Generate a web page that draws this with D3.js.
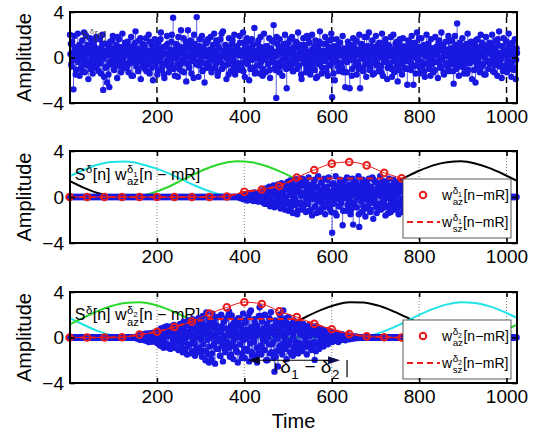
<!DOCTYPE html>
<html>
<head>
<meta charset="utf-8">
<script src="https://cdn.jsdelivr.net/npm/d3@7"></script>
<style>
  body { margin: 0; background: #fff; }
  svg { display: block; font-family: "Liberation Sans", Arial, Helvetica, sans-serif; }
</style>
</head>
<body>
<svg id="chart" width="543" height="434"></svg>
<script>
// ticks
const xTicks = [200, 400, 600, 800, 1000];
const yTicks = [-4, 0, 4];

// top panel: S^delta[n], odd samples (n = 1, 3, 5, ...)
const noise = [
  2.0,1.2,-0.8,0.4,-2.8,1.9,0.3,-1.1,0.7,2.1,-0.2,-1.6,0.9,0.1,1.5,-0.6,2.2,-1.3,0.5,-0.3,1.1,-1.9,0.8,1.7,-0.7,0.2,-1.4,1.3,0.6,-0.9,1.8,-0.1,
  0.4,-1.2,1.6,-0.5,0.9,2.0,-2.85,-1.7,0.3,1.2,-0.8,0.6,-1.5,-2.6,1.4,-0.4,0.7,1.9,-1.0,0.2,-0.6,1.1,-1.8,0.5,1.6,-0.3,0.9,-1.1,2.1,-0.7,0.1,1.3,
  -0.9,0.6,1.4,-1.3,0.2,-0.5,1.8,0.8,-1.6,1.0,-0.2,2.3,-0.8,0.4,-1.2,1.5,0.0,-1.9,0.7,1.2,-0.4,0.9,-1.0,1.7,-0.6,0.3,2.0,-1.4,0.5,-0.1,1.1,-2.0,
  0.8,1.6,-0.7,0.2,-1.5,1.3,0.6,-0.3,2.2,-1.1,0.4,0.9,-1.8,1.0,-0.5,1.9,0.3,-1.3,0.7,-0.2,1.4,-0.9,3.5,0.5,-1.6,1.2,0.1,-0.6,1.8,-1.0,0.6,2.4,
  -1.2,0.5,1.7,-0.4,0.9,-2.1,1.1,2.4,-0.8,0.3,1.5,-1.4,0.7,-0.1,2.0,1.2,-0.6,3.55,0.4,-1.7,1.0,-0.3,0.8,1.9,-1.1,0.2,-2.2,1.4,0.6,-0.9,1.6,-0.5,
  0.3,1.8,-1.3,0.7,-0.2,2.1,-0.9,0.5,1.3,-1.6,0.9,-0.4,1.6,0.1,-1.0,2.3,-0.7,0.6,1.1,-1.9,0.4,-0.6,1.7,0.8,-1.2,0.2,1.5,-0.3,2.0,-1.5,0.7,1.0,
  -0.8,0.4,1.9,-1.1,0.6,-0.5,2.2,1.3,-1.7,0.2,0.9,-0.3,1.4,-2.0,0.8,0.1,1.6,-0.9,0.5,2.6,-1.2,0.3,-0.7,1.2,0.7,-1.4,1.8,-0.2,0.6,-1.0,2.1,0.4,
  -1.3,1.0,0.2,-0.6,1.7,-1.8,0.8,1.5,-0.4,2.85,0.3,-1.1,-3.55,1.2,-0.5,0.9,1.6,-0.8,0.5,-1.6,1.1,-0.2,2.0,0.6,-2.7,0.4,1.3,-0.9,0.7,-0.3,1.8,-1.2,
  0.9,-0.5,1.4,0.2,-1.0,2.2,-0.7,0.6,1.1,-1.9,0.3,1.7,-0.4,0.8,-1.3,1.9,0.1,-0.8,1.3,-1.5,0.5,2.0,-0.2,0.7,-1.1,1.5,0.4,-1.7,1.0,-0.6,2.3,0.2,
  -1.4,0.6,1.2,-0.3,1.8,-0.9,0.4,-1.6,1.5,0.0,-0.7,2.1,-3.5,0.8,1.0,-2.0,0.3,1.6,-0.5,0.9,-1.2,1.3,0.2,-0.8,1.9,-1.3,0.5,-2.6,0.7,-0.4,1.4,0.1,
  -2.7,1.1,0.5,-1.0,1.7,-0.2,0.8,1.4,-1.5,0.3,-0.6,2.0,-2.7,0.6,1.2,-0.9,0.4,1.8,-0.3,-1.7,1.0,0.2,2.2,-1.1,0.7,-0.5,1.5,0.9,-1.4,0.1,1.9,-0.7,
  0.6,-1.2,1.3,0.4,-0.8,2.1,-1.6,0.9,0.2,1.6,-0.4,-1.9,1.1,0.5,-0.6,1.8,-1.0,0.3,2.0,-1.3,0.7,-0.1,1.4,-2.1,0.8,1.2,-0.5,0.4,-1.5,1.7,0.0,-0.9,
  1.0,0.5,-2.4,1.5,-0.3,0.8,-1.1,1.9,0.2,-2.4,0.6,1.3,-0.7,2.2,-0.2,0.9,-1.4,0.4,1.7,-0.8,0.3,1.1,-1.7,0.7,2.0,-0.5,1.2,-1.0,0.1,1.6,-0.6,0.8,
  -1.3,0.4,1.8,-0.4,0.9,-1.8,1.2,0.6,-0.9,2.2,-0.1,1.0,-1.5,0.5,1.4,-0.7,0.3,1.9,-1.2,0.8,-0.3,1.5,-0.6,-2.3,0.7,1.1,-1.0,3.0,0.2,-1.6,1.3,0.5,
  -0.8,1.7,0.1,-1.4,1.0,0.6,-0.5,2.1,-1.1,0.8,0.3,1.4,-1.9,0.5,-0.2,1.2,-2.2,0.9,1.6,-0.7,0.4,-1.3,2.0,0.2,-0.6,1.1,-1.5,0.7,1.8,-0.3,0.9,-1.0,
  1.3,-0.4,0.6,2.0,-1.2,0.8,-0.7,1.5,0.3,-1.6,1.1,2.3,-0.5,0.4,-1.8,1.0,1.7,-0.9,0.2,1.4,-1.3,0.6,2.1,-0.6,1.2,-1.7,0.9,0.5,-1.1,1.6,-1.9,0.8
];
// top panel: even samples (n = 2, 4, 6, ...)
const noiseEven = [
  0.3,-0.6,1.4,0.1,-0.2,0.9,-1.5,0.5,0.0,-0.4,1.1,0.6,-0.9,0.2,-1.2,0.8,-0.1,0.4,1.9,-0.7,0.3,-0.3,0.7,-1.0,1.3,0.1,-0.5,-0.2,0.9,1.6,-0.8,0.2,
  -0.3,0.7,0.0,-1.4,0.5,1.2,-0.1,0.3,-0.9,0.6,-2.2,0.2,1.0,-0.4,0.4,-0.6,1.5,0.0,-1.1,0.8,0.3,-0.2,1.8,-0.7,0.1,0.5,-1.3,0.9,-0.1,0.4,-0.5,1.1,
  0.2,-0.8,0.6,1.0,-0.3,0.1,-1.6,0.7,0.4,-0.2,1.3,-0.5,0.0,0.8,-1.0,0.3,1.7,-0.4,0.2,-0.7,0.5,1.1,-0.1,-1.2,0.6,0.0,-0.6,1.4,0.3,-0.9,0.7,-0.2,
  1.0,-0.4,0.2,0.5,-1.1,0.8,-0.2,1.6,0.1,-0.7,0.4,-1.5,0.9,0.3,-0.3,1.2,-0.8,0.0,0.6,-0.5,2.0,0.2,-1.0,0.4,0.7,-0.1,1.1,-1.7,0.3,0.5,-0.6,0.9,
  -0.2,0.6,-1.3,0.3,1.4,-0.5,0.1,0.8,-0.9,0.0,1.2,-0.3,0.5,-1.8,0.7,0.2,-0.4,1.0,0.4,-0.7,1.6,-0.1,0.3,-1.2,0.9,0.6,-0.5,0.1,1.3,-0.8,0.2,-0.3,
  0.7,-1.0,0.4,1.1,-0.2,0.0,-0.6,1.5,0.3,-1.3,0.8,0.1,-0.4,2.1,-0.9,0.5,0.2,-0.7,1.0,-0.1,0.6,-1.5,0.4,0.9,-0.3,1.2,0.0,-0.8,0.5,0.3,-1.1,0.7,
  -0.5,0.2,1.3,-0.8,0.6,0.1,-1.2,0.4,0.9,-0.3,1.7,-0.6,0.0,0.5,-1.0,0.8,-0.2,1.1,0.3,-1.4,0.6,-0.1,0.2,1.5,-0.7,0.4,-0.4,0.9,-1.6,0.1,0.7,-0.2,
  0.4,1.0,-0.6,0.2,-1.1,0.7,0.0,-0.3,1.4,0.5,-0.9,0.1,1.8,-0.5,0.3,-1.3,0.6,0.9,-0.2,0.4,-0.7,1.2,0.0,-1.0,0.8,0.2,-0.4,1.6,-0.8,0.3,0.5,-1.2,
  0.1,-0.4,0.9,1.3,-0.7,0.3,-0.1,0.6,-1.5,0.8,0.2,-0.5,1.1,0.0,-0.9,0.4,1.7,-0.3,0.5,-1.1,0.2,0.7,-0.6,1.0,0.4,-1.8,0.1,0.6,-0.2,1.4,-0.5,0.3,
  -0.9,0.5,0.2,-0.3,1.2,-1.2,0.6,0.0,0.9,-0.6,0.3,1.6,-0.4,-1.4,0.7,0.1,-0.2,1.0,-0.8,0.4,1.3,-0.5,0.2,-1.0,0.6,0.8,-0.3,0.0,-1.3,0.5,1.1,-0.1,
  0.6,-0.2,-1.6,0.4,0.9,0.1,-0.7,1.5,-0.4,0.3,-1.0,0.7,1.2,-0.1,0.5,-1.2,0.2,0.8,-0.6,1.8,-0.3,0.0,0.6,-0.9,1.0,0.3,-1.5,0.4,-0.2,0.9,0.1,-0.5,
  1.1,-0.7,0.3,0.0,-1.3,0.8,0.5,-0.4,1.4,-0.2,0.2,-0.9,0.6,1.0,-0.5,0.1,-1.7,0.7,0.4,-0.3,1.2,-0.8,0.0,0.5,-1.1,1.6,0.2,-0.6,0.9,-0.1,0.3,-1.0,
  -0.3,0.8,0.1,-1.0,0.5,1.3,-0.5,0.2,-0.8,0.9,0.0,-1.4,0.6,0.4,-0.2,1.7,-0.9,0.3,-0.4,1.0,0.7,-1.2,0.1,0.5,-0.6,1.2,-0.1,0.4,-1.6,0.8,0.2,-0.3,
  0.5,-1.1,0.9,0.2,-0.4,0.6,1.5,-0.7,0.0,-0.2,1.1,-1.3,0.4,0.7,-0.5,0.1,-0.9,1.4,0.3,-0.6,0.8,0.0,-1.2,0.5,1.9,-0.3,0.2,-0.8,0.6,-0.1,1.0,-0.4,
  0.2,0.7,-0.9,0.4,-0.1,1.2,-1.4,0.3,0.8,-0.5,0.0,1.0,-0.3,0.6,-1.1,0.2,1.5,-0.6,0.1,-0.2,0.9,-1.0,0.4,1.3,-0.7,0.3,0.0,-1.5,0.7,0.5,-0.4,1.1,
  -0.6,0.3,1.2,-0.2,0.5,-1.3,0.8,0.0,-0.5,1.6,0.2,-0.8,0.4,-0.1,1.0,-1.2,0.6,0.3,-0.7,1.4,-0.3,0.1,0.9,-1.0,0.5,-0.4,1.3,0.2,-0.9,0.7,-0.2,0.4
];

// middle panel: S^delta[n] w_az1[n-mR], odd samples
const stem2 = [
  0,0,0,0,0,0,0,0,0,0,0,0,0,0,0,0,0,0,0,0,
  0,0,0,0,0,0,0,0,0,0,0,0,0,0,0,0,0,0,0,0,
  0,0,0,0,0,0,0,0,0,0,0,0,0,0,0,0,0,0,0,0,
  0,0,0,0,0,0,0,0,0,0,0,0,0,0,0,0,0,0,0,0,
  0,0,0,0,0,0,0,0,0,0,0,0,0,0,0,0,0,0,0,0,
  0,0,0,0,0,0,0,0,0,0,0,0,0,0,0,0,0,0,0,0,
  0,0,0,0,0,0,0,0,0,0,0,0,0,0,0,0,0,0,0,0,
  0,0,0,0,0,0,0,0,0,0,0,0,0,0,0,0,0,0,0,0,
  0,0,0,0,0,0,0,0,0,0,0,0,0,0,0,0,0,0,0,0,
  0,0,0,0,0,0,0,0,0,0,0,0,0,0,
  0.05,-0.1,0.1,0.2,-0.15,0.05,0.25,-0.2,0.1,-0.3,0.3,0.15,-0.25,0.35,-0.1,0.2,-0.35,0.4,0.1,-0.3,0.25,-0.4,0.35,0.15,-0.2,
  0.5,-0.3,0.6,-0.55,0.2,0.75,-0.6,0.4,-0.2,0.9,-0.8,0.3,0.65,-0.5,1.0,-0.9,0.1,0.8,-0.7,1.1,-0.35,0.55,-1.0,1.2,0.2,-0.6,0.9,-1.1,0.7,-0.4,
  1.3,-1.2,0.5,1.45,-0.8,0.2,-1.4,1.0,0.6,-0.3,1.55,-1.5,0.8,-0.6,1.2,0.4,-1.1,1.6,-0.9,0.3,1.4,-1.3,
  0.7,-0.4,1.7,-1.2,0.2,1.1,-1.6,0.5,-0.1,1.5,
  -0.9,-1.4,0.8,1.8,-0.3,0.4,-1.1,1.3,0.0,-0.7,
  1.6,-1.5,0.6,0.9,-0.2,1.7,-1.0,0.3,-1.3,-3.1,
  1.2,-0.5,0.7,1.8,-1.6,0.1,1.0,-0.8,1.5,-0.3,
  0.6,-2.45,1.4,-0.1,0.9,-1.2,1.7,0.4,-0.6,1.1,
  -1.5,0.2,1.6,-2.4,0.8,-0.4,1.3,-0.9,0.5,1.8,
  -2.6,0.3,1.0,-1.3,1.5,-0.2,0.7,-1.7,1.2,0.1,
  -0.8,1.6,0.4,-1.1,0.9,1.7,-1.9,0.6,-0.5,1.3,
  -1.4,0.2,1.1,-0.7,1.8,0.5,-1.0,1.4,-0.3,0.8,
  -1.6,1.2,0.0,-0.9,1.6,0.6,-1.3,1.0,-0.2,1.5,
  -1.1,0.7,1.3,-0.6,0.3,-1.5,1.1,0.5,-0.8,1.2,
  -1.3,0.9,-0.4,1.0,-1.0,0.6,0.8,-0.9,0.3,-0.7,0.9,-0.5,0.6,-0.8,0.2,0.7,-0.6,0.4,-0.5,0.5,
  -0.3,0.4,-0.4,0.2,0.3,-0.3,0.15,-0.2,0.25,-0.15,0.1,-0.1,0.15,0.05,-0.1,0.05,-0.05,0.02,0,0,
  0,0,0,0,0,0,0,0,0,0,0,0,0,0,0,0,0,0,0,0,
  0,0,0,0,0,0,0,0,0,0,0,0,0,0,0,0,0,0,0,0,
  0,0,0,0,0,0,0,0,0,0,0,0,0,0,0,0,0,0,0,0,
  0,0,0,0,0,0,0,0,0,0,0,0,0,0,0,0,0,0,0,0,
  0,0,0,0,0,0,0,0,0,0,0
];
// middle panel: even samples inside the window, n = 390, 392, ..., 840
const stem2Even = [
  0.0,0.1,-0.05,0.15,-0.2,0.1,0.0,-0.1,0.2,0.25,-0.15,0.05,0.3,-0.2,0.1,-0.3,0.35,0.0,-0.25,0.2,0.15,-0.35,0.3,0.05,-0.4,
  0.2,0.4,-0.3,0.1,-0.6,0.5,0.3,-0.2,0.7,0.0,-0.5,0.8,0.2,-0.4,0.5,-0.8,0.9,0.1,-0.3,0.6,-0.7,0.3,1.0,-0.2,0.4,-0.9,0.7,0.0,-0.6,1.1,
  -0.4,0.8,0.2,-1.0,0.5,1.2,-0.3,0.0,-0.7,0.9,0.4,-1.2,0.6,1.4,-0.5,0.1,-0.9,1.0,0.3,-0.6,1.3,-0.2,
  0.4,-0.6,1.0,0.1,-1.1,0.7,0.3,-0.2,1.4,-0.8,
  0.2,0.9,-0.4,0.0,-1.3,0.6,1.2,-0.5,0.3,-0.9,
  0.8,0.1,-0.7,1.5,-0.3,0.5,-1.0,0.2,1.1,-0.6,
  0.0,0.7,-1.4,0.4,0.9,-0.2,-0.8,1.3,0.3,-0.5,
  1.0,-1.2,0.2,0.6,-0.1,1.6,-0.7,0.4,-0.3,0.8,
  -1.1,0.1,0.5,-0.6,1.2,0.3,-0.9,0.7,0.0,-1.5,
  0.9,0.2,-0.4,1.4,-0.8,0.5,0.1,-1.0,0.6,1.1,
  -0.3,0.4,-1.3,0.8,0.0,-0.5,1.5,-0.2,0.3,-0.9,
  0.7,1.2,-0.6,0.1,-1.1,0.5,0.9,-0.4,0.2,-0.7,
  1.3,-0.1,0.6,-1.4,0.3,0.8,-0.5,0.0,1.0,-0.8,
  0.4,-0.3,1.1,-1.0,0.2,0.6,-0.6,0.9,-0.2,0.5,
  -0.9,0.7,0.2,-0.6,1.0,-0.4,0.5,-0.8,0.3,0.6,-0.5,0.2,-0.6,0.4,0.1,-0.4,0.5,-0.2,0.3,-0.3,
  0.2,0.25,-0.2,0.1,-0.15,0.2,0.05,-0.1,0.15,-0.1,0.05,0.1,-0.05,0.05,0.0,-0.03,0.02,0,0
];

// bottom panel: S^delta[n] w_az2[n-mR], odd samples
const stem3 = [
  0,0,0,0,0,0,0,0,0,0,0,0,0,0,0,0,0,0,0,0,
  0,0,0,0,0,0,0,0,0,0,0,0,0,0,0,0,0,0,0,0,
  0,0,0,0,0,0,0,0,0,0,0,0,0,0,0,0,0,0,0,0,
  0,0,0,0,0,0,0,0,0,0,0,0,0,0,0,0,
  0.05,-0.1,0.15,0.1,-0.2,0.05,0.25,-0.15,0.3,-0.25,0.1,0.35,-0.3,0.2,-0.4,0.3,0.15,-0.35,0.4,-0.2,0.1,0.45,-0.4,0.25,
  -0.5,0.6,0.3,-0.7,0.8,-0.3,0.5,-0.9,0.9,0.2,-0.6,1.0,-0.8,0.4,0.7,-1.0,0.1,0.9,-0.5,1.1,-0.9,0.6,-0.2,1.0,-1.1,0.5,
  1.2,-0.8,0.4,-1.3,1.4,0.6,-1.0,1.1,-1.5,0.3,1.5,-0.6,0.9,-1.4,1.6,-0.2,0.8,-1.6,1.3,0.5,-1.2,1.7,-0.9,0.2,1.4,-1.7,
  1.9,-1.2,0.6,-2.0,2.2,0.9,-1.5,-2.2,1.3,0.3,
  -1.9,2.1,-0.7,1.6,-2.3,1.1,0.0,1.8,-1.0,0.5,
  -1.6,2.0,0.8,-2.1,1.4,-0.4,-1.3,1.7,0.2,-0.8,
  2.3,-1.7,1.0,1.94,-0.5,-1.9,0.7,1.5,-1.1,0.4,
  -2.2,1.2,1.65,-0.6,0.9,-1.4,2.1,-0.2,-1.8,1.3,
  0.6,-1.0,1.8,-2.1,0.1,2.37,-1.3,0.8,-0.4,1.6,
  -1.7,1.0,-2.2,0.5,1.9,2.66,-0.9,-1.5,1.4,0.2,
  -1.1,2.0,-0.3,1.2,-2.0,0.7,1.7,-1.4,2.23,-0.6,
  0.9,-1.8,-3.0,1.5,0.3,-1.2,-2.55,1.1,2.0,-0.7,
  1.6,-1.5,2.37,0.4,-1.0,1.3,-1.9,0.8,1.8,-0.4,
  -1.3,1.2,0.5,-1.6,1.5,-0.8,0.9,-1.2,1.1,
  -1.4,0.7,1.3,-0.9,0.4,-1.2,1.2,0.2,-0.8,1.0,-1.5,0.6,0.9,-0.5,1.1,-1.1,0.3,-0.7,0.8,-1.97,
  0.5,1.0,-0.6,0.4,-1.0,0.8,0.2,-0.5,0.7,-0.8,0.4,0.6,-0.4,0.3,-0.6,0.5,-0.3,0.2,0.5,-0.4,
  0.4,-0.3,0.2,0.35,-0.25,0.3,-0.4,0.15,0.25,-0.2,0.3,-0.15,0.1,0.2,-0.25,0.15,-0.1,0.2,0.1,-0.15,
  0.12,-0.1,0.08,0.1,-0.08,0.06,-0.05,0.08,0.04,-0.05,0.03,0.02,-0.03,0.02,0,0,0,0,0,0,
  0,0,0,0,0,0,0,0,0,0,0,0,0,0,0,0,0,0,0,0,
  0,0,0,0,0,0,0,0,0,0,0,0,0,0,0,0,0,0,0,0,
  0,0,0,0,0,0,0,0,0,0,0,0,0,0,0,0,0,0,0,0,
  0,0,0,0,0,0,0,0,0,0,0,0,0,0,0,0,0,0,0,0,
  0,0,0,0,0,0,0,0,0,0,0,0,0,0,0,0,0,0,0,0,
  0,0,0,0,0,0,0,0,0,0,0,0,0,0,0,0,0,0,0,0,
  0,0,0,0,0,0,0,0,0,0,0,0,0,0,0,0,0,0,0,0,
  0,0,0,0,0,0,0,0,0,0,0,0,0,0,0,0,0,0,0,0,
  0,0,0,0,0,0,0,0,0,0,0
];
// bottom panel: even samples inside the window, n = 154, 156, ..., 680
const stem3Even = [
  0.0,0.1,-0.1,0.05,0.2,-0.15,0.1,0.25,-0.05,-0.2,0.3,0.1,-0.3,0.2,0.35,-0.1,0.0,-0.35,0.25,0.4,-0.2,0.15,-0.4,0.3,
  0.2,-0.4,0.5,0.1,-0.7,0.6,0.0,-0.3,0.8,-0.5,0.4,0.1,-0.9,0.7,0.3,-0.6,1.0,-0.2,0.5,-0.8,0.2,0.9,-0.4,0.0,-1.0,0.6,
  -0.3,0.9,0.2,-1.1,0.6,-0.4,1.2,0.0,-0.8,0.5,1.3,-0.6,0.3,-1.2,0.8,0.1,-0.5,1.5,-0.9,0.4,0.0,-1.3,1.0,0.6,-0.2,1.4,
  -0.6,1.1,0.3,-1.2,0.7,-0.2,1.6,-0.8,0.4,0.0,
  -1.4,0.9,1.3,-0.5,0.2,-1.0,0.6,1.8,-0.3,-1.6,
  0.5,1.0,-0.7,0.1,1.4,-1.1,0.8,-0.4,0.3,2.0,
  -0.9,0.6,-1.5,0.2,1.2,-0.2,-0.8,0.9,0.4,-1.3,
  1.7,0.0,-0.6,1.1,-1.8,0.5,0.3,-1.0,1.5,-0.1,
  0.7,-1.2,0.2,2.2,-0.5,0.9,-1.6,0.4,-0.3,1.3,
  0.1,-0.9,1.0,-1.4,0.6,0.3,-0.7,1.9,-0.2,0.8,
  -1.1,0.5,-2.0,1.2,0.0,-0.6,1.6,0.4,-1.3,0.7,
  -0.4,1.0,0.2,-1.7,0.9,-0.1,1.4,-0.8,0.3,-1.2,
  0.6,1.1,-0.5,0.0,-1.0,1.7,0.4,-0.7,0.8,-0.3,
  1.2,-1.5,0.5,0.1,-0.9,1.0,-0.4,0.6,-1.1,
  0.8,-0.5,0.3,-1.0,0.9,0.2,-0.7,0.5,-0.3,1.0,-0.8,0.4,0.1,-0.6,0.7,-0.9,0.3,0.5,-0.4,0.6,
  -1.2,0.2,0.4,-0.5,0.6,-0.3,0.1,0.5,-0.6,0.3,-0.2,0.4,0.1,-0.4,0.3,-0.1,0.2,-0.3,0.4,-0.2,
  0.3,-0.25,0.1,0.3,-0.2,0.2,-0.3,0.1,0.2,-0.15,0.25,-0.1,0.05,0.15,-0.2,0.1,-0.05,0.15,0.05,-0.1,
  0.1,-0.08,0.05,0.08,-0.05,0.04,-0.03,0.05,0.02,-0.03,0.02,0.01,-0.02,0.01,0,0,0,0,0
];

// neighbouring frame windows, one value every 32 samples (n = 0..1024)
const cyan2  = [1.8,2.35,2.8,3.05,3.08,2.9,2.55,2.1,1.55,0.98,0.5,0.15,0.01,0,0,0,0,0,0,0,0,0,0,0,0,0,0,0,0,0,0,0,0];
const green2 = [0,0,0,0,0,0.08,0.38,0.85,1.44,2.03,2.56,2.93,3.1,3.02,2.72,2.25,1.67,1.06,0.54,0.17,0,0,0,0,0,0,0,0,0,0,0,0,0];
const black2 = [1.4,0.82,0.35,0.07,0,0,0,0,0,0,0,0,0,0,0,0,0,0,0,0,0.01,0.18,0.57,1.1,1.7,2.28,2.75,3.03,3.1,2.92,2.53,2.0,1.4];
const cyan3  = [1.72,1.12,0.58,0.19,0.01,0,0,0,0,0,0,0,0,0,0,0,0,0,0,0,0,0.06,0.34,0.8,1.38,1.99,2.52,2.91,3.1,3.04,2.76,2.3,1.72];
const green3 = [1.14,1.74,2.32,2.77,3.04,3.09,2.9,2.5,1.96,1.36,0.79,0.33,0.06,0,0,0,0,0,0,0,0,0,0,0,0,0,0,0,0,0.01,0.19,0.6,1.14];
const black3 = [0,0,0,0,0,0,0,0,0,0,0,0,0,0.03,0.27,0.71,1.27,1.87,2.43,2.85,3.09,3.08,2.83,2.39,1.83,1.23,0.68,0.25,0.03,0,0,0,0];

// analysis window (circles) and synthesis window (dashed), every 40 samples (n = 0..1000)
const az2 = [0,0,0,0,0,0,0,0,0,0.05,0.45,0.65,0.95,1.7,2.35,2.9,3.05,2.75,2.1,1.62,1.05,0.6,0.3,0.08,0,0];
const sz2 = [0,0,0,0,0,0,0,0,0,0.05,0.45,0.65,0.95,1.6,1.6,1.6,1.6,1.6,1.6,1.6,1.05,0.6,0.3,0.08,0,0];
const az3 = [0,0,0,0.02,0.25,0.5,0.92,1.4,2.1,2.65,3.1,2.95,2.3,1.8,1.2,0.72,0.3,0.1,0.02,0,0,0,0,0,0,0];
const sz3 = [0,0,0,0.02,0.25,0.5,0.92,1.4,1.62,1.62,1.62,1.62,1.62,1.62,1.2,0.72,0.3,0.1,0.02,0,0,0,0,0,0,0];

const stemStep = 2, winStep = 32, markStep = 40;
const BLUE = "#1818e0", RED = "#e81c1c", CYAN = "#1fe3e6", GREEN = "#2ad82a";

const svg = d3.select("#chart");
svg.append("rect").attr("width", 543).attr("height", 434).attr("fill", "#fff");

const x = d3.scaleLinear().domain([1, 1024]).range([70, 517]);
const boxes = [[12, 103], [151, 243], [292, 383]];
const ys = boxes.map(b => d3.scaleLinear().domain([-4, 4]).range([b[1], b[0]]));

svg.append("defs").selectAll("clipPath").data(boxes).join("clipPath")
    .attr("id", (d, i) => "clip" + i)
  .append("rect")
    .attr("x", 70).attr("y", d => d[0])
    .attr("width", 447).attr("height", d => d[1] - d[0]);

// text with TeX-like super/subscripts
function texText(g, x0, y0, fs, pieces, color) {
  const t = g.append("g").attr("fill", color || "#000");
  let cx = x0;
  function put(s, px, py, size) {
    const n = t.append("text").attr("x", px).attr("y", py)
      .attr("font-size", size).style("white-space", "pre").text(s);
    return n.node().getComputedTextLength();
  }
  pieces.forEach(p => {
    if (typeof p === "string") { cx += put(p, cx, y0, fs); return; }
    let up = 0, down = 0;
    if (p.sup) {
      up = put(p.sup, cx + 0.5, y0 - 0.42 * fs, 0.7 * fs);
      if (p.supSub) up += put(p.supSub, cx + up + 0.5, y0 - 0.2 * fs, 0.5 * fs);
    }
    if (p.sub) down = put(p.sub, cx + 0.5, y0 + 0.33 * fs, 0.7 * fs);
    cx += Math.max(up, down) + 1;
  });
  return t;
}

function grid(g, y, dashed) {
  g.append("g").selectAll("line").data(xTicks).join("line")
    .attr("x1", d => x(d)).attr("x2", d => x(d))
    .attr("y1", y(-4)).attr("y2", y(4))
    .attr("stroke", dashed ? "#000" : "#808080")
    .attr("stroke-width", dashed ? 1.4 : 1)
    .attr("stroke-dasharray", dashed ? "6,4" : "1,2");
}

// sets = [[values, first sample n], ...], each at stemStep spacing
function stems(g, y, sets) {
  const pts = [];
  sets.forEach(s => s[0].forEach((v, i) => pts.push([s[1] + i * stemStep, v])));
  pts.sort((a, b) => a[0] - b[0]);
  g.append("g").selectAll("line").data(pts).join("line")
    .attr("x1", d => x(d[0])).attr("x2", d => x(d[0]))
    .attr("y1", y(0)).attr("y2", d => y(d[1]))
    .attr("stroke", BLUE).attr("stroke-width", 0.7);
  g.append("g").selectAll("circle").data(pts).join("circle")
    .attr("cx", d => x(d[0])).attr("cy", d => y(d[1]))
    .attr("r", 3.2).attr("fill", BLUE);
}

function windowCurve(g, y, vals, color, clip) {
  const line = d3.line()
    .x((d, i) => x(i * winStep)).y(d => y(d))
    .curve(d3.curveMonotoneX);
  g.append("path").datum(vals)
    .attr("clip-path", `url(#${clip})`)
    .attr("d", line).attr("fill", "none")
    .attr("stroke", color).attr("stroke-width", 2);
}

function redWindows(g, y, az, sz) {
  const line = d3.line()
    .x((d, i) => x(i * markStep)).y(d => y(d));
  g.append("path").datum(az)
    .attr("d", line.curve(d3.curveMonotoneX)).attr("fill", "none")
    .attr("stroke", RED).attr("stroke-width", 1);
  g.append("g").selectAll("circle").data(az).join("circle")
    .attr("cx", (d, i) => x(i * markStep)).attr("cy", d => y(d))
    .attr("r", 3.3).attr("fill", "none")
    .attr("stroke", RED).attr("stroke-width", 2);
  g.append("path").datum(sz)
    .attr("d", line.curve(d3.curveLinear)).attr("fill", "none")
    .attr("stroke", RED).attr("stroke-width", 2)
    .attr("stroke-dasharray", "6,4");
}

function legend(g, top, digit) {
  const lx = 403, ly = top + 28;
  g.append("rect").attr("x", lx).attr("y", ly).attr("width", 108).attr("height", 59)
    .attr("fill", "#fff").attr("stroke", "#333").attr("stroke-width", 0.8);
  g.append("circle").attr("cx", lx + 20).attr("cy", ly + 16).attr("r", 3.3)
    .attr("fill", "none").attr("stroke", RED).attr("stroke-width", 2);
  texText(g, lx + 39, ly + 21, 14, ["w", {sup: "δ", supSub: digit, sub: "az"}, "[n−mR]"]);
  g.append("line").attr("x1", lx + 4).attr("x2", lx + 37)
    .attr("y1", ly + 43).attr("y2", ly + 43)
    .attr("stroke", RED).attr("stroke-width", 2).attr("stroke-dasharray", "6,4");
  texText(g, lx + 39, ly + 48, 14, ["w", {sup: "δ", supSub: digit, sub: "sz"}, "[n−mR]"]);
}

function frame(g, y) {
  const bottom = g.append("g").attr("transform", `translate(0,${y(-4)})`)
    .call(d3.axisBottom(x).tickValues(xTicks).tickSize(-5).tickPadding(7)
      .tickFormat(d3.format("d")));
  const topAx = g.append("g").attr("transform", `translate(0,${y(4)})`)
    .call(d3.axisTop(x).tickValues(xTicks).tickSize(-5).tickFormat(""));
  const leftAx = g.append("g").attr("transform", `translate(${x.range()[0]},0)`)
    .call(d3.axisLeft(y).tickValues(yTicks).tickSize(-5).tickPadding(6)
      .tickFormat(d => d < 0 ? "\u2212" + (-d) : d));
  const rightAx = g.append("g").attr("transform", `translate(${x.range()[1]},0)`)
    .call(d3.axisRight(y).tickValues(yTicks).tickSize(-5).tickFormat(""));
  [bottom, topAx, leftAx, rightAx].forEach(a => {
    a.select(".domain").remove();
    a.selectAll("line").attr("stroke", "#000").attr("stroke-width", 1.6);
    a.selectAll("text").attr("font-size", 19).attr("fill", "#000")
      .attr("font-family", '"Liberation Sans", Arial, sans-serif');
  });
  g.append("rect").attr("x", x.range()[0]).attr("y", y(4))
    .attr("width", x.range()[1] - x.range()[0]).attr("height", y(-4) - y(4))
    .attr("fill", "none").attr("stroke", "#000").attr("stroke-width", 2);
  g.append("text")
    .attr("transform", `translate(31,${(y(4) + y(-4)) / 2}) rotate(-90)`)
    .attr("text-anchor", "middle").attr("font-size", 20).text("Amplitude");
}

const panels = ys.map(() => svg.append("g"));

// panel 1
(function () {
  const g = panels[0], y = ys[0];
  grid(g, y, true);
  stems(g, y, [[noise, 1], [noiseEven, 2]]);
  texText(g, x(28), y(1.63), 11, ["S", {sup: "δ"}, "[n]"], "#333").attr("opacity", 0.85);
  frame(g, y);
})();

// panels 2 and 3
[
  {g: panels[1], y: ys[1], clip: "clip1", wins: [[black2, "#000"], [cyan2, CYAN], [green2, GREEN]],
   stem: [[stem2, 1], [stem2Even, 390]], az: az2, sz: sz2, digit: "1", top: boxes[1][0]},
  {g: panels[2], y: ys[2], clip: "clip2", wins: [[black3, "#000"], [cyan3, CYAN], [green3, GREEN]],
   stem: [[stem3, 1], [stem3Even, 154]], az: az3, sz: sz3, digit: "2", top: boxes[2][0]}
].forEach(p => {
  grid(p.g, p.y, false);
  p.wins.forEach(w => windowCurve(p.g, p.y, w[0], w[1], p.clip));
  texText(p.g, x(12), p.y(1.5), 16,
    ["S", {sup: "δ"}, "[n] w", {sup: "δ", supSub: p.digit, sub: "az"}, "[n − mR]"]);
  stems(p.g, p.y, p.stem);
  redWindows(p.g, p.y, p.az, p.sz);
  if (p.digit === "2") {
    // |delta1 - delta2| shift arrow
    const g = p.g, y = p.y;
    const ay = y(-2.0), a1 = x(408), a2 = x(619), head = 12, hw = 4;
    g.append("line").attr("x1", a1 + head).attr("x2", a2 - head)
      .attr("y1", ay).attr("y2", ay).attr("stroke", "#000").attr("stroke-width", 1);
    g.append("path").attr("d", `M${a1},${ay}L${a1 + head},${ay - hw}L${a1 + head},${ay + hw}Z`)
      .attr("fill", "#05052a");
    g.append("path").attr("d", `M${a2},${ay}L${a2 - head},${ay - hw}L${a2 - head},${ay + hw}Z`)
      .attr("fill", "#0a0a50");
    g.append("line").attr("x1", x(472)).attr("x2", x(472))
      .attr("y1", y(-2.2)).attr("y2", y(-3.05)).attr("stroke", "#000").attr("stroke-width", 1);
    g.append("line").attr("x1", x(635)).attr("x2", x(635))
      .attr("y1", y(-1.97)).attr("y2", y(-3.5)).attr("stroke", "#000").attr("stroke-width", 1.2);
    texText(g, x(482), y(-3.1), 19, ["δ", {sub: "1"}, " − δ", {sub: "2"}]);
  }
  legend(p.g, p.top, p.digit);
  frame(p.g, p.y);
});

svg.append("text").attr("x", (x.range()[0] + x.range()[1]) / 2).attr("y", 428)
  .attr("text-anchor", "middle").attr("font-size", 20).text("Time");
</script>
</body>
</html>
